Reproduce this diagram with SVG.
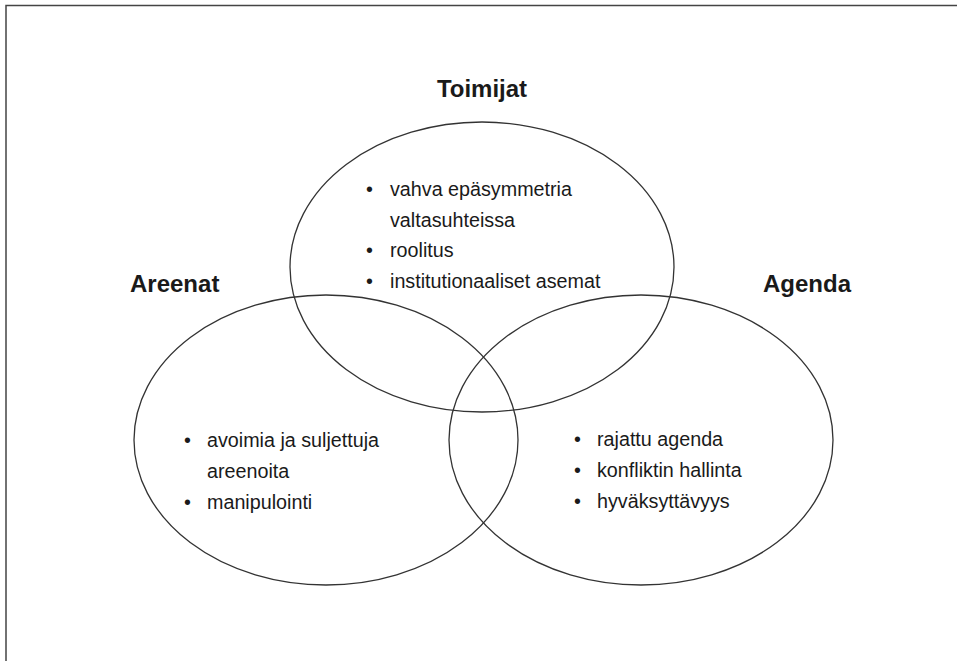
<svg xmlns="http://www.w3.org/2000/svg" width="957" height="661" viewBox="0 0 957 661">
  <style>
    .frame { stroke: #444; stroke-width: 1.5; fill: none; }
    .set { fill: none; stroke: #333; stroke-width: 1.3; }
    .title { font-family: "Liberation Sans", Arial, sans-serif; font-weight: bold; font-size: 24px; fill: #1a1a1a; }
    .item { font-family: "Liberation Sans", Arial, sans-serif; font-size: 21px; fill: #1a1a1a; }
  </style>
  <rect width="957" height="661" fill="#fff"/>
  <!-- page frame -->
  <path class="frame" d="M6,661 V5.5 H957"/>

  <g id="toimijat">
    <ellipse class="set" cx="482" cy="267" rx="192" ry="145"/>
    <text class="title" x="482" y="97" text-anchor="middle">Toimijat</text>
    <!-- list is slightly condensed horizontally -->
    <g transform="translate(390,0) scale(0.94,1)">
      <text class="item" x="-25.5" y="196">•</text>
      <text class="item" x="0" y="196">vahva epäsymmetria</text>
      <text class="item" x="0" y="227">valtasuhteissa</text>
      <text class="item" x="-25.5" y="257">•</text>
      <text class="item" x="0" y="257">roolitus</text>
      <text class="item" x="-25.5" y="288">•</text>
      <text class="item" x="0" y="288">institutionaaliset asemat</text>
    </g>
  </g>

  <g id="areenat">
    <ellipse class="set" cx="326" cy="440" rx="192" ry="145"/>
    <text class="title" x="130" y="292">Areenat</text>
    <g transform="translate(207,0) scale(0.94,1)">
      <text class="item" x="-24.5" y="447">•</text>
      <text class="item" x="0" y="447">avoimia ja suljettuja</text>
      <text class="item" x="0" y="478">areenoita</text>
      <text class="item" x="-24.5" y="509">•</text>
      <text class="item" x="0" y="509">manipulointi</text>
    </g>
  </g>

  <g id="agenda">
    <ellipse class="set" cx="641" cy="440" rx="192" ry="145"/>
    <text class="title" x="763" y="292">Agenda</text>
    <g transform="translate(597,0) scale(0.94,1)">
      <text class="item" x="-24.5" y="446">•</text>
      <text class="item" x="0" y="446">rajattu agenda</text>
      <text class="item" x="-24.5" y="477">•</text>
      <text class="item" x="0" y="477">konfliktin hallinta</text>
      <text class="item" x="-24.5" y="508">•</text>
      <text class="item" x="0" y="508">hyväksyttävyys</text>
    </g>
  </g>

  <g id="connectors"></g>
</svg>
